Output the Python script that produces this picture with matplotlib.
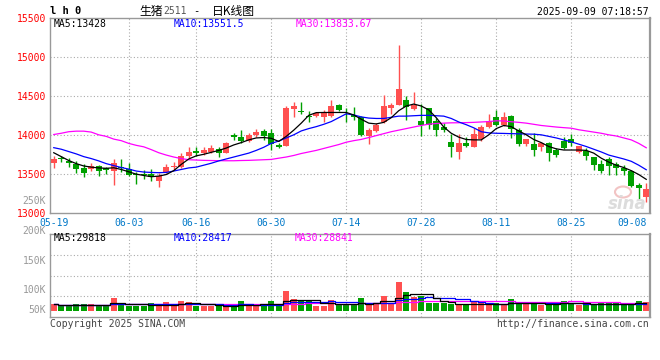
import matplotlib
matplotlib.use("Agg")
import matplotlib.pyplot as plt
from matplotlib.patches import Ellipse
import numpy as np
import pandas as pd

plt.rcParams['font.family'] = ['DejaVu Sans Mono', 'Noto Sans CJK SC']

# ---------------- data ----------------
tick_index = [0, 10, 19, 29, 39, 49, 59, 69, 79]
tick_labels = ["05-19", "06-03", "06-16", "06-30", "07-14", "07-28", "08-11", "08-25", "09-08"]

opens = [13641, 13697, 13667, 13620, 13577, 13556, 13599, 13577, 13539, 13590,
         13556, 13496, 13496, 13496, 13411, 13526, 13590, 13581, 13727, 13791,
         13761, 13782, 13817, 13770, 13996, 13966, 13919, 13996, 14047, 14017,
         13868, 13859, 14329, 14304, 14240, 14240, 14231, 14240, 14381, 14295,
         14253, 14231, 13983, 14052, 14167, 14346, 14381, 14453, 14329, 14176,
         14338, 14176, 14095, 13911, 13783, 13898, 13847, 13941, 14095, 14223,
         14125, 14240, 14060, 13881, 13877, 13847, 13898, 13804, 13924, 13941,
         13783, 13795, 13719, 13625, 13684, 13625, 13578, 13539, 13356, 13197]
highs = [13727, 13727, 13697, 13667, 13620, 13633, 13611, 13590, 13688, 13688,
         13633, 13526, 13547, 13556, 13505, 13624, 13654, 13761, 13838, 13846,
         13846, 13868, 13846, 13906, 14017, 14060, 14017, 14069, 14081, 14081,
         13898, 14368, 14423, 14423, 14304, 14295, 14316, 14445, 14393, 14338,
         14351, 14240, 14082, 14146, 14509, 14411, 15150, 14496, 14552, 14402,
         14347, 14210, 14154, 14009, 14009, 13975, 14082, 14125, 14266, 14317,
         14295, 14253, 14082, 13941, 14026, 13911, 13911, 13825, 13966, 14009,
         13855, 13825, 13719, 13676, 13710, 13655, 13612, 13548, 13377, 13385]
lows = [13577, 13654, 13590, 13505, 13462, 13539, 13475, 13496, 13355, 13526,
        13470, 13368, 13432, 13411, 13334, 13505, 13547, 13569, 13697, 13727,
        13740, 13761, 13718, 13761, 13932, 13889, 13911, 13975, 13932, 13804,
        13825, 13859, 14231, 14265, 14167, 14231, 14167, 14231, 14308, 14167,
        14189, 13983, 13881, 14039, 14154, 14265, 14381, 14189, 14317, 13983,
        14069, 13983, 14039, 13718, 13684, 13838, 13838, 13924, 14082, 14112,
        14112, 13962, 13855, 13855, 13727, 13791, 13667, 13710, 13813, 13855,
        13761, 13676, 13548, 13513, 13484, 13484, 13484, 13334, 13172, 13142]
closes = [13684, 13688, 13633, 13564, 13505, 13599, 13539, 13547, 13633, 13569,
          13483, 13479, 13488, 13453, 13475, 13581, 13599, 13727, 13774, 13770,
          13804, 13834, 13761, 13898, 13966, 13919, 13996, 14039, 13983, 13876,
          13846, 14346, 14368, 14295, 14231, 14274, 14274, 14368, 14325, 14287,
          14231, 13996, 14060, 14125, 14368, 14381, 14586, 14359, 14381, 14120,
          14125, 14060, 14060, 13838, 13889, 13855, 14009, 14095, 14176, 14125,
          14231, 14069, 13881, 13941, 13804, 13898, 13761, 13740, 13825, 13890,
          13855, 13727, 13612, 13535, 13599, 13578, 13539, 13343, 13313, 13300]

ma5 = [13770, 13720, 13670, 13630, 13600, 13585, 13575, 13570, 13577, 13555,
       13525, 13495, 13478, 13462, 13470, 13490, 13540, 13620, 13690, 13730,
       13750, 13775, 13800, 13830, 13870, 13900, 13935, 13960, 13965, 13955,
       13915, 13980, 14060, 14150, 14250, 14285, 14287, 14287, 14287, 14287,
       14255, 14200, 14150, 14140, 14160, 14220, 14310, 14370, 14395, 14370,
       14320, 14220, 14100, 14020, 13970, 13940, 13935, 13935, 14000, 14080,
       14120, 14105, 14050, 14000, 13940, 13900, 13850, 13820, 13805, 13805,
       13805, 13800, 13765, 13700, 13650, 13610, 13580, 13540, 13490, 13428]
ma10 = [13835, 13815, 13785, 13755, 13720, 13695, 13665, 13630, 13605, 13580,
        13560, 13535, 13522, 13517, 13514, 13517, 13535, 13555, 13575, 13585,
        13610, 13635, 13665, 13690, 13715, 13740, 13765, 13800, 13840, 13890,
        13920, 13960, 14000, 14050, 14080, 14105, 14135, 14170, 14220, 14270,
        14255, 14230, 14215, 14210, 14210, 14225, 14240, 14240, 14245, 14250,
        14250, 14245, 14240, 14210, 14165, 14130, 14090, 14040, 14025, 14020,
        14018, 14015, 14013, 14010, 14008, 14000, 13980, 13960, 13935, 13910,
        13880, 13850, 13815, 13780, 13740, 13715, 13690, 13660, 13610, 13551.5]
ma30 = [14004, 14020, 14040, 14047, 14047, 14035, 14000, 13980, 13945, 13925,
        13890, 13865, 13846, 13810, 13770, 13740, 13715, 13695, 13680, 13676,
        13672, 13670, 13668, 13667, 13667, 13670, 13672, 13676, 13680, 13684,
        13700, 13715, 13735, 13760, 13780, 13800, 13825, 13850, 13875, 13905,
        13925, 13941, 13965, 13990, 14015, 14040, 14060, 14080, 14100, 14120,
        14137, 14145, 14150, 14154, 14155, 14157, 14160, 14165, 14170, 14180,
        14178, 14168, 14160, 14150, 14135, 14120, 14110, 14100, 14092, 14085,
        14065, 14050, 14035, 14020, 14000, 13985, 13960, 13935, 13890, 13833.67]

volumes = [26000, 19500, 19500, 26000, 26000, 26000, 19500, 19500, 50700, 28600,
           19500, 19500, 19500, 28600, 19500, 33800, 19500, 37700, 33800, 19500,
           19500, 19500, 19500, 19500, 19500, 37700, 19500, 19500, 26000, 37700,
           19500, 78000, 45500, 37700, 37700, 19500, 19500, 41600, 20800, 20800,
           20800, 49400, 28600, 28600, 57200, 28600, 111800, 72800, 54600, 58500,
           28600, 28600, 28600, 26000, 20800, 20800, 33800, 28600, 28600, 28600,
           20800, 45500, 28600, 28600, 28600, 20800, 28600, 28600, 37700, 28600,
           20800, 28600, 20800, 28600, 28600, 28600, 20800, 28600, 37700, 33800]

price_ticks = [13000, 13500, 14000, 14500, 15000, 15500]
vol_tick_labels = ["250K", "200K", "150K", "100K", "50K"]

# ---------------- style ----------------
RED = '#FF5050'
GREEN = '#00A000'
GRID = '#aaaaaa'
SPINE = '#999999'
DOT = (0, (1, 2))
W, H = 660, 360


def fx(px):
    return px / W


def fy(py):
    return 1 - py / H


fig = plt.figure(figsize=(6.6, 3.6), dpi=100)
fig.patch.set_facecolor('white')

P_TOP, P_BOT = 18, 212.7
V_TOP, V_BOT = 234, 317
ax = fig.add_axes([fx(50), fy(P_BOT), 600 / W, (P_BOT - P_TOP) / H])
axv = fig.add_axes([fx(50), fy(V_BOT), 600 / W, (V_BOT - V_TOP) / H])

o = np.array(opens, float)
h = np.array(highs, float)
l = np.array(lows, float)
c = np.array(closes, float)
x = np.arange(len(c))
up = c >= o
colors = np.where(up, RED, GREEN)

for a in (ax, axv):
    a.set_xlim(-0.5, len(c) - 0.5)
    for s in a.spines.values():
        s.set_color(SPINE)
        s.set_linewidth(1)
    a.spines['right'].set_linewidth(1.6)
    for i in tick_index[1:-1]:
        a.axvline(i, color=GRID, lw=0.8, ls=DOT, zorder=0)

# faint sina logo (drawn first so it sits under the candles)
fig.add_artist(Ellipse((fx(623), fy(192)), 16 / W, 11 / H, facecolor='none',
                       edgecolor='#f2c4c4', lw=1.5, zorder=0))
fig.text(fx(647), fy(204), "sina", fontsize=12, style='italic', weight='bold',
         family='DejaVu Sans', color='#dcdcdc', ha='right', va='center', zorder=0)

# price panel
ax.patch.set_alpha(0)
ax.set_ylim(13000, 15500)
for yv in price_ticks[1:-1]:
    ax.axhline(yv, color=GRID, lw=0.8, ls=DOT, zorder=0)
ax.vlines(x, l, h, colors=colors, lw=1.0, zorder=2)
ax.bar(x, np.maximum(np.abs(c - o), 12), bottom=np.minimum(o, c), width=0.74,
       color=colors, lw=0, zorder=3)
ax.plot(x, ma30, color='#FF00FF', lw=0.9, zorder=4)
ax.plot(x, ma10, color='#0000FF', lw=0.9, zorder=4)
ax.plot(x, ma5, color='black', lw=0.9, zorder=5)

ax.set_yticks(price_ticks)
ax.set_yticklabels([str(t) for t in price_ticks])
ax.tick_params(axis='y', length=0, pad=3, labelcolor='red', labelsize=7)
ax.set_xticks(tick_index)
ax.set_xticklabels(tick_labels)
ax.tick_params(axis='x', length=0, pad=3.5, labelcolor='#0078C8', labelsize=7)
ax.get_xticklabels()[-1].set_horizontalalignment('right')

# volume panel
v = np.array(volumes, float)
axv.set_ylim(-24500, 299000)
lo, hi = axv.get_ylim()
for f in (0.25, 0.5, 0.75):
    axv.axhline(lo + f * (hi - lo), color=GRID, lw=0.8, ls=DOT, zorder=0)
axv.bar(x, v, width=0.74, color=colors, lw=0, zorder=2)
vs = pd.Series(v)
axv.plot(x, vs.rolling(30, min_periods=1).mean(), color='#FF00FF', lw=0.9,
         drawstyle='steps-mid', zorder=3)
axv.plot(x, vs.rolling(10, min_periods=1).mean(), color='#0000FF', lw=0.9,
         drawstyle='steps-mid', zorder=3)
axv.plot(x, vs.rolling(5, min_periods=1).mean(), color='black', lw=0.9,
         drawstyle='steps-mid', zorder=4)
axv.set_xticks([])
axv.set_yticks([])
for lab, ypx in zip(vol_tick_labels, [201, 231, 261, 290, 310]):
    axv.text(-4 / 600, (V_BOT - ypx) / (V_BOT - V_TOP), lab, transform=axv.transAxes,
             ha='right', va='center', color='#999999', fontsize=7, clip_on=False)

# ---------------- texts ----------------
fig.text(fx(50), fy(11), "l h 0", fontsize=7.5, weight='bold', va='center', ha='left')
cjk = ['Noto Sans CJK SC', 'DejaVu Sans']
fig.text(fx(139), fy(11), "生猪", family=cjk, fontsize=8.5, va='center', ha='left')
fig.text(fx(163), fy(11), "2511", fontsize=7, color='#555555', va='center', ha='left')
fig.text(fx(193), fy(11), "-", fontsize=7.5, va='center', ha='left')
fig.text(fx(212), fy(11), "日K线图", family=cjk, fontsize=8.5, va='center', ha='left')
fig.text(fx(649), fy(12), "2025-09-09 07:18:57", fontsize=7, va='center', ha='right')

fig.text(fx(54), fy(24), "MA5:13428", fontsize=7, color='black', va='center')
fig.text(fx(174), fy(24), "MA10:13551.5", fontsize=7, color='#0000FF', va='center')
fig.text(fx(296), fy(24), "MA30:13833.67", fontsize=7, color='#FF00FF', va='center')

fig.text(fx(54), fy(238), "MA5:29818", fontsize=7, color='black', va='center')
fig.text(fx(174), fy(238), "MA10:28417", fontsize=7, color='#0000FF', va='center')
fig.text(fx(295), fy(238), "MA30:28841", fontsize=7, color='#FF00FF', va='center')

fig.text(fx(50), fy(324), "Copyright 2025 SINA.COM", fontsize=7, color='#444444', va='center')
fig.text(fx(649), fy(324), "http://finance.sina.com.cn", fontsize=7, color='#444444',
         va='center', ha='right')

fig.savefig("out.png", dpi=100, facecolor='white')
